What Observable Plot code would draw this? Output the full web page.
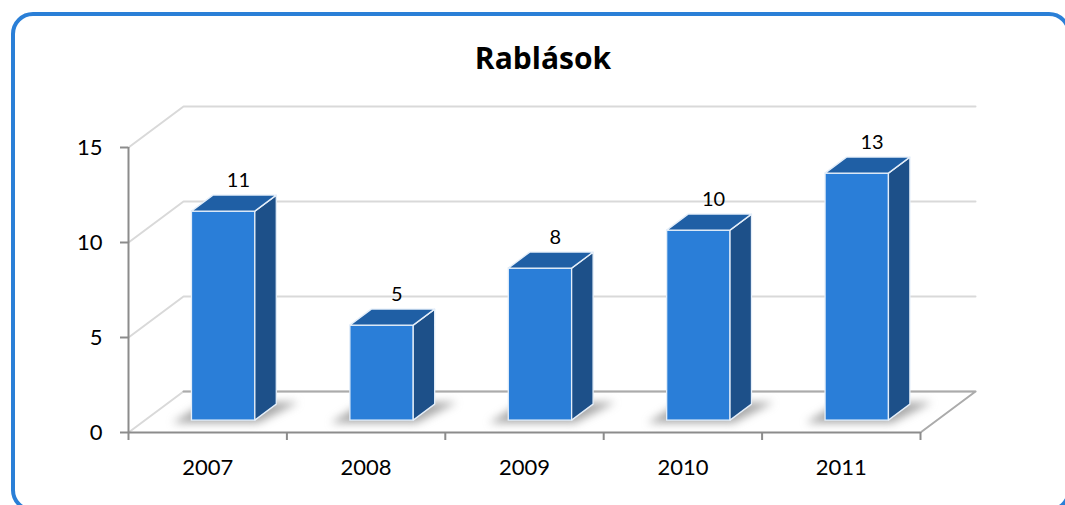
<!DOCTYPE html>
<html><head><meta charset="utf-8">
<script src="https://cdn.jsdelivr.net/npm/d3@7"></script>
<script src="https://cdn.jsdelivr.net/npm/@observablehq/plot@0.6"></script>
<style>
body{margin:0;background:#fff;font-family:Lato,sans-serif;}
#wrap{position:relative;width:1065px;height:505px;overflow:hidden;}
#chart{position:absolute;left:0;top:0;}
#frame{position:absolute;left:11px;top:12px;width:1060px;height:500px;border:4px solid #2a7fd7;border-radius:22px;box-sizing:border-box;}
#title{position:absolute;left:0;width:1086px;top:38px;text-align:center;font-family:"Open Sans",sans-serif;font-weight:bold;font-size:30px;line-height:40px;color:#000;}
</style></head><body>
<div id="wrap"><div id="chart"></div><div id="frame"></div><div id="title">Rablások</div></div>
<script>
const years = ["2007", "2008", "2009", "2010", "2011"];
const values = [11, 5, 8, 10, 13];
const yTicks = [0, 5, 10, 15];

const W = 1065, H = 505, mL = 128, mR = 145, mT = 147, mB = 73;
const kx = (W - mL - mR) / years.length;   // px per category
const ky = (H - mT - mB) / 15;             // px per unit
const DX = 55 / kx, DY = 41 / ky;          // full depth vector in data units
const f0 = 0.29, f1 = 0.68, bw = 0.4;

const bars = values.map((v, i) => ({
  i, v, year: years[i],
  xl: i + 0.5 - bw / 2 + f0 * DX,
  xr: i + 0.5 + bw / 2 + f0 * DX,
  y0: f0 * DY
}));
const sd = (f1 - f0) * DX;
const sideFaces = bars.flatMap(d => [
  {i: d.i, x: d.xr, y1: f0 * DY, y2: d.v + f0 * DY},
  {i: d.i, x: d.xr + sd, y1: f1 * DY, y2: d.v + f1 * DY}
]);
const topFaces = bars.flatMap(d => [
  {i: d.i, y: d.v + f0 * DY, x1: d.xl, x2: d.xr},
  {i: d.i, y: d.v + f1 * DY, x1: d.xl + sd, x2: d.xr + sd}
]);
const shadows = bars.flatMap(d => [
  {i: d.i, y: f0 * DY - 0.15, x1: d.xl - 0.12, x2: d.xr + 0.02},
  {i: d.i, y: f1 * DY + 0.1, x1: d.xl + sd - 0.05, x2: d.xr + sd + 0.14}
]);
const wall = yTicks.flatMap(t => [
  {t, x: 0, y: t}, {t, x: DX, y: t + DY}, {t, x: years.length + DX, y: t + DY}
]);
const floorEdge = [
  {x: DX, y: DY}, {x: years.length + DX, y: DY}, {x: years.length, y: 0}
];
const edge = "#e4eef9";

const chart = Plot.plot({
  width: W, height: H,
  marginLeft: mL, marginRight: mR, marginTop: mT, marginBottom: mB,
  style: {background: "transparent", fontFamily: "Lato, sans-serif"},
  x: {domain: [0, years.length], label: null},
  y: {domain: [0, 15], label: null},
  marks: [
    Plot.line(wall, {x: "x", y: "y", z: "t", stroke: "#d9d9d9", strokeWidth: 2}),
    Plot.line(floorEdge, {x: "x", y: "y", stroke: "#ababab", strokeWidth: 2}),
    Plot.areaX(shadows, {y: "y", x1: "x1", x2: "x2", z: "i", fill: "#6f6f6f", fillOpacity: 0.6, imageFilter: "blur(4px)"}),
    Plot.ruleX([0], {y1: 0, y2: 15, stroke: "#8c8c8c", strokeWidth: 2}),
    Plot.ruleY([0], {x1: 0, x2: years.length, stroke: "#8c8c8c", strokeWidth: 2}),
    Plot.axisY(yTicks, {tickSize: 8, tickPadding: 18, fontSize: 22, stroke: "#8c8c8c", strokeWidth: 2, fill: "#000", label: null}),
    Plot.axisX(d3.range(years.length + 1), {tickSize: 8, tickFormat: () => "", stroke: "#8c8c8c", strokeWidth: 2, label: null}),
    Plot.axisX(d3.range(years.length).map(i => i + 0.5), {tickSize: 0, tickPadding: 27, fontSize: 22, fill: "#000", tickFormat: d => years[Math.floor(d)], label: null}),
    Plot.rect(bars, {x1: "xl", x2: "xr", y1: "y0", y2: d => d.v + d.y0, fill: "#2a7ed8", stroke: edge, strokeWidth: 1.3}),
    Plot.areaY(sideFaces, {x: "x", y1: "y1", y2: "y2", z: "i", fill: "#1d5089", stroke: edge, strokeWidth: 1.3}),
    Plot.areaX(topFaces, {y: "y", x1: "x1", x2: "x2", z: "i", fill: "#1f5fa5", stroke: edge, strokeWidth: 1.3}),
    Plot.text(bars, {x: d => d.i + 0.5 + (f0 + f1) / 2 * DX, y: d => d.v + f1 * DY, text: d => String(d.v), dx: 4, dy: -15, fontSize: 20, fill: "#000"})
  ]
});
document.getElementById("chart").appendChild(chart);
</script>
</body></html>
